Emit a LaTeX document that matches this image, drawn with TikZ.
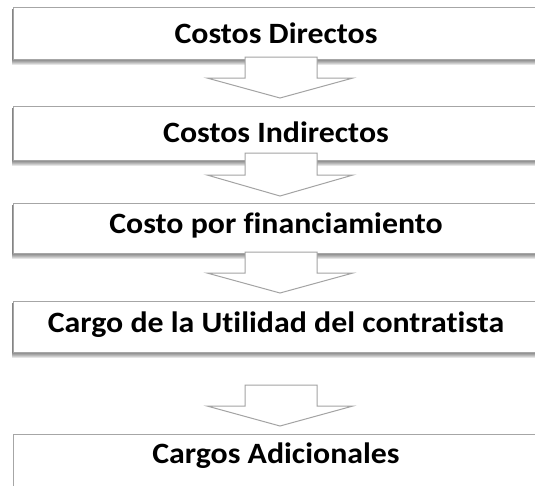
\documentclass[tikz,border=0pt]{standalone}
\usepackage{fontspec}
\setmainfont{Carlito}[RawFeature={-liga}, FakeStretch=1.08]
\definecolor{edgegray}{HTML}{A6A6A6}
\definecolor{arrowgray}{HTML}{A3A3A3}
\tikzset{
  stagebox/.style={draw=edgegray, line width=1pt, fill=white, rectangle, inner sep=0pt,
    minimum width=526pt, anchor=north west},
  stagelabel/.style={anchor=base, font=\fontsize{29.5}{34}\selectfont\bfseries, inner sep=0pt},
  flowarrow/.style={draw=arrowgray, line width=1pt, fill=white, line join=miter},
  shadowlayer/.style={fill=black, opacity=0.10}
}
\newcommand{\boxshadow}[4]{%
  \foreach \k in {1,...,6} {
    \fill[shadowlayer] (#1-1, #2+2) rectangle (#3+1, #4+\k);
  }
}
\begin{document}
\begin{tikzpicture}[x=1pt, y=-1pt]
\clip (0,0) rectangle (535,485);
\fill[white] (0,0) rectangle (535,485);
% shadows
\boxshadow{13}{7}{539}{59}
\boxshadow{13}{106}{539}{160}
\boxshadow{13}{203}{539}{253}
\boxshadow{13}{301}{539}{352}
% boxes
\node[stagebox, minimum height=52pt] (b1) at (13,7) {};
\node[stagebox, minimum height=54pt] (b2) at (13,106) {};
\node[stagebox, minimum height=50pt] (b3) at (13,203) {};
\node[stagebox, minimum height=51pt] (b4) at (13,301) {};
\node[stagebox, minimum height=70pt] (b5) at (13,434) {};
% labels
\node[stagelabel] (t1) at (276,43) {Costos Directos};
\node[stagelabel] (t2) at (276,142) {Costos Indirectos};
\node[stagelabel] (t3) at (276,233) {Costo por financiamiento};
\node[stagelabel] (t4) at (276,332) {Cargo de la Utilidad del contratista};
\node[stagelabel] (t5) at (276,463) {Cargos Adicionales};
% arrows
\draw[flowarrow] (245,57) -- (317,57) -- (317,78) -- (353,78) -- (280,98) -- (207,78) -- (245,78) -- cycle;
\draw[flowarrow] (245,153) -- (317,153) -- (317,175) -- (353,175) -- (280,196) -- (207,175) -- (245,175) -- cycle;
\draw[flowarrow] (245,252) -- (317,252) -- (317,273) -- (353,273) -- (280,293) -- (207,273) -- (245,273) -- cycle;
\draw[flowarrow] (245,385) -- (317,385) -- (317,406) -- (353,406) -- (280,426) -- (207,406) -- (245,406) -- cycle;
\end{tikzpicture}
\end{document}
